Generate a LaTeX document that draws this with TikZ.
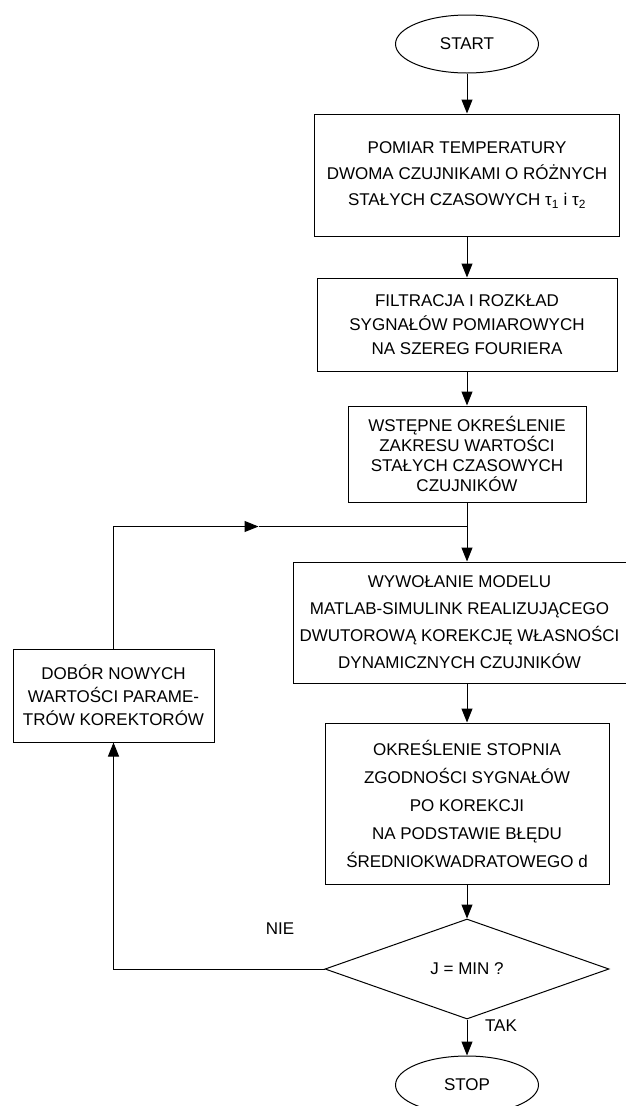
\documentclass[tikz,border=0pt]{standalone}
\usepackage{fontspec}
\setmainfont{Liberation Sans}
\usetikzlibrary{arrows.meta, positioning, shapes.geometric}

\begin{document}
\begin{tikzpicture}[
x=1pt, y=-1pt,
line width = 1pt,
    >={Triangle[length=14pt,width=11pt]},
 blok/.style n args = {3}{rectangle, draw, align=center, inner sep=0pt,
                 minimum width=#1, minimum height=#2,
                 font=\fontsize{17}{#3}\selectfont},
 term/.style = {ellipse, draw, inner sep=0pt, minimum width=143pt,
                 minimum height=58pt, font=\fontsize{17}{20}\selectfont},
 decyzja/.style = {diamond, draw, inner sep=0pt, minimum width=284pt,
                 minimum height=100pt, font=\fontsize{17}{20}\selectfont},
 etykieta/.style = {font=\fontsize{17}{20}\selectfont}
                 ]
\useasboundingbox (0,0) rectangle (626,1106);

\node[term] (start) at (467,44) {START};
\node[blok={305pt}{122pt}{26pt}, below=40pt of start] (pomiar) {
                     POMIAR TEMPERATURY\\
                     DWOMA CZUJNIKAMI O RÓŻNYCH\\
                     STAŁYCH CZASOWYCH τ\textsubscript{1} i τ\textsubscript{2}};
\node[blok={300pt}{93pt}{24pt}, below=41pt of pomiar] (filtracja) {
                     FILTRACJA I ROZKŁAD\\
                     SYGNAŁÓW POMIAROWYCH\\
                     NA SZEREG FOURIERA};
\node[blok={238pt}{96pt}{20pt}, below=34pt of filtracja] (wstepne) {
                     WSTĘPNE OKREŚLENIE\\
                     ZAKRESU WARTOŚCI\\
                     STAŁYCH CZASOWYCH\\
                     CZUJNIKÓW};
\node[blok={333pt}{121pt}{27pt}, below=59pt of wstepne, xshift=-7.5pt] (model) {
                     WYWOŁANIE MODELU\\
                     MATLAB-SIMULINK REALIZUJĄCEGO\\
                     DWUTOROWĄ KOREKCJĘ WŁASNOŚCI\\
                     DYNAMICZNYCH CZUJNIKÓW};
\node[blok={284pt}{161pt}{28pt}, below=39pt of model, xshift=7.5pt] (zgodnosc) {
                     OKREŚLENIE STOPNIA\\
                     ZGODNOŚCI SYGNAŁÓW\\
                     PO KOREKCJI\\
                     NA PODSTAWIE BŁĘDU\\
                     ŚREDNIOKWADRATOWEGO d};
\node[decyzja, below=34pt of zgodnosc] (jmin) {J = MIN ?};
\node[term, below=36pt of jmin] (stop) {STOP};

\node[blok={201pt}{93pt}{23pt}] (dobor) at (113.5,695.5) {
                     DOBÓR NOWYCH\\
                     WARTOŚCI PARAME-\\
                     TRÓW KOREKTORÓW};

\node[etykieta] (nie) at (280,929) {NIE};
\node[etykieta] (tak) at (501,1026) {TAK};

\path (wstepne.south) ++(0,24) coordinate (wezel);
\path (wezel -| dobor.north) ++(145,0) coordinate (grot);

% glowny tor
\draw[->] (start) -- (pomiar);
\draw[->] (pomiar) -- (filtracja);
\draw[->] (filtracja) -- (wstepne);
\draw (wstepne) -- (wezel);
\draw[->] (wezel) -- (wezel |- model.north);
\draw[->] (model.south -| zgodnosc) -- (zgodnosc);
\draw[->] (zgodnosc) -- (jmin);
\draw[->] (jmin) -- (stop);

% petla korekcji
\draw[->] (jmin.west) -| (dobor.south);
\draw[->] (dobor.north) |- (grot);
\draw (grot) -- (wezel);
\end{tikzpicture}
\end{document}
